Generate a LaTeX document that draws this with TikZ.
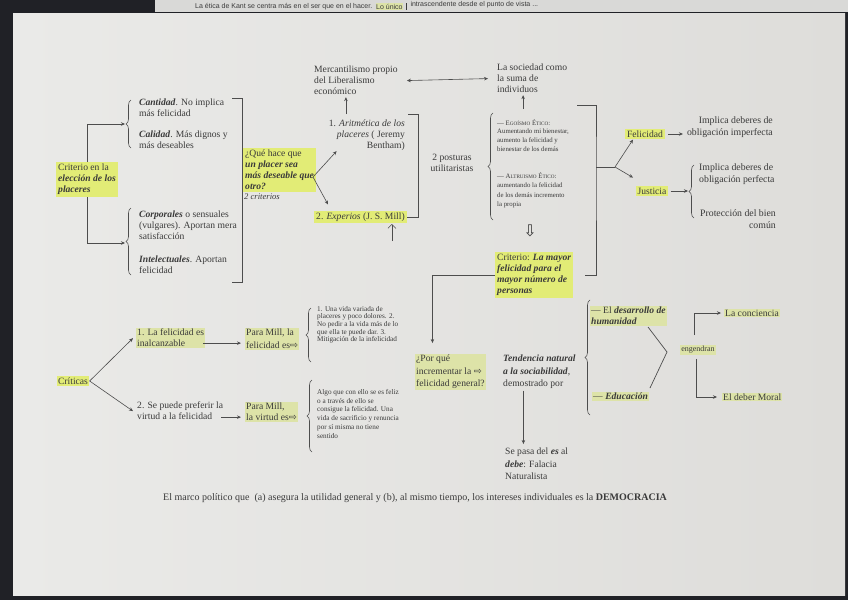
\documentclass[tikz,border=0pt]{standalone}
\usepackage{fontspec}
\setmainfont{Liberation Serif}
\newfontfamily\arrfont{DejaVu Sans}
\newfontfamily\stripfont{Liberation Sans}
\usepackage{tikz}
\usetikzlibrary{positioning, arrows.meta, calc, decorations.pathreplacing}
\definecolor{ink}{HTML}{3A3A3A}
\definecolor{rule}{HTML}{4D4D4D}
\definecolor{hlyel}{HTML}{E2EC76}
\definecolor{hlpale}{HTML}{DDE3A8}
\definecolor{frame}{HTML}{202126}
\definecolor{stripbg}{HTML}{D9D9D7}
\newcommand{\bfit}[1]{\textbf{\textit{#1}}}
\newcommand{\fsc}[2]{#1{\fontsize{5.2}{6}\selectfont #2}}
\newcommand{\warr}{{\arrfont ⇨}}

\begin{document}
\begin{tikzpicture}[x=1pt, y=-1pt,
  font=\fontsize{9.6}{11}\selectfont, text=ink,
  txt/.style={anchor=north west, align=left, inner sep=0pt},
  txtr/.style={anchor=north east, align=right, inner sep=0pt},
  hlt/.style={fill=hlyel, inner sep=2pt},
  hlp/.style={fill=hlpale, inner sep=1pt},
  smalltxt/.style={font=\fontsize{7.2}{7.6}\selectfont},
  wide/.style={font=\fontsize{9.6}{12.3}\selectfont},
  flow/.style={-{Stealth[length=4pt, width=3.5pt]}, rule, line width=0.6pt},
  biflow/.style={{Stealth[length=4pt, width=3.5pt]}-{Stealth[length=4pt, width=3.5pt]}, rule, line width=0.6pt},
  brc/.style={decorate, decoration={brace, amplitude=5pt}, rule, line width=0.6pt},
  bar/.style={rule, line width=0.7pt}
]
  % photo frame, page and strip of the sheet behind
  \useasboundingbox (0,0) rectangle (848,600);
  \fill[frame] (0,0) rectangle (848,600);
  \shade[left color={rgb,255:red,234;green,234;blue,232}, right color={rgb,255:red,222;green,221;blue,218}]
    (13,13) rectangle (845,595);
  \fill[stripbg] (155,0) rectangle (848,12);
  \node[anchor=west, inner sep=0pt, font=\stripfont\fontsize{7}{8}\selectfont] (kant) at (195,6.5)
    {La ética de Kant se centra más en el ser que en el hacer.};
  \node[right=3pt of kant, fill=hlpale, inner sep=0.5pt, font=\stripfont\fontsize{7}{8}\selectfont] (unico) {Lo único};
  \node[right=7pt of unico, yshift=1.5pt, inner sep=0pt, font=\stripfont\fontsize{7}{8}\selectfont] (intra)
    {intrascendente desde el punto de vista ...};
  \draw[ink, line width=0.5pt] ([xshift=3pt]unico.north east) -- ([xshift=3pt]unico.south east);

  % criterio en la eleccion de los placeres
  \node[txt, hlt] (crit) at (56,162) {Criterio en la\\\bfit{elección de los}\\\bfit{placeres}};
  \node[txt] (cant)  at (139,99)  {\bfit{Cantidad}. No implica\\más felicidad};
  \node[txt] (cali)  at (139,131) {\bfit{Calidad}. Más dignos y\\más deseables};
  \node[txt] (corp)  at (139,211) {\bfit{Corporales} o sensuales\\(vulgares). Aportan mera\\satisfacción};
  \node[txt] (intel) at (139,256) {\bfit{Intelectuales}. Aportan\\felicidad};
  \coordinate (bA) at (125,124);
  \coordinate (bB) at (125,243);
  \draw[flow] (crit.north) |- (bA);
  \draw[flow] (crit.south) |- (bB);
  \draw[brc] (131,148) -- (131,100);
  \draw[brc] (131,275) -- (131,208);
  \draw[bar] (232,98) -- (242,98) -- (242,282) -- (232,282);

  \node[txt, hlt] (que) at (243,148) {¿Qué hace que\\\bfit{un placer sea}\\\bfit{más deseable que}\\\bfit{otro?}};
  \node[txt, font=\fontsize{8.6}{10}\selectfont\itshape] (crit2) at (244,194) {2 criterios};

  % dos posturas utilitaristas
  \node[txtr] (arith) at (405,120) {1. \textit{Aritmética de los}\\\textit{placeres} ( Jeremy\\Bentham)};
  \node[anchor=west, hlt] (exp) at (314,217) {2. \textit{Experios} (J. S. Mill)};
  \coordinate (qf) at (313,177);
  \draw[flow] (qf) -- ([xshift=8pt]arith.south west);
  \draw[flow] (qf) -- ([shift={(14,-6)}]exp.north west);
  \node[txt] (merc) at (314,66) {Mercantilismo propio\\del Liberalismo\\económico};
  \node[txt] (soc)  at (497,64) {La sociedad como\\la suma de\\individuos};
  \draw[flow] ([shift={(-10,-6)}]merc.south |- arith.north) -- ([shift={(-10,2)}]merc.south);
  \draw[biflow] ([xshift=9pt]merc.east) -- ([xshift=-9pt]soc.west);
  \draw[flow] ([shift={(-9,16)}]soc.south) -- ([shift={(-9,2)}]soc.south);
  \coordinate (b2) at (418,114);
  \draw[bar] ([xshift=-10pt]b2) -- (b2) |- (exp.east);
  \node[align=center, inner sep=0pt] (post) at (452,163) {2 posturas\\utilitaristas};
  \draw[rule, line width=0.5pt, -{Straight Barb[length=4pt]}] ([shift={(-15,24)}]exp.east) -- ([shift={(-15,7)}]exp.east);

  % egoismo y altruismo etico
  \node[txt, font=\fontsize{6.8}{8.8}\selectfont] (ego) at (497,119)
    {— \fsc{E}{GOÍSMO} \fsc{É}{TICO}:\\Aumentando mi bienestar,\\aumento la felicidad y\\bienestar de los demás};
  \node[txt, font=\fontsize{6.8}{9.6}\selectfont] (alt) at (497,172)
    {— \fsc{A}{LTRUISMO} \fsc{É}{TICO}:\\aumentando la felicidad\\de los demás incremento\\la propia};
  \draw[brc] (493,220) -- (493,113);
  \node[inner sep=0pt, font=\arrfont\fontsize{16}{16}\selectfont] (dn) at (530,231) {⇩};
  \node[txt, hlt] (crit3) at (495,252) {Criterio: \bfit{La mayor}\\\bfit{felicidad para el}\\\bfit{mayor número de}\\\bfit{personas}};
  \coordinate (b3) at (596,167);
  \draw[bar] (577,105) -| (b3) |- ([xshift=12pt]crit3.east);

  % felicidad y justicia
  \node[hlt] (fel) at (645,134) {Felicidad};
  \node[hlt] (jus) at (652,191) {Justicia};
  \coordinate (jf) at (615,167);
  \draw[bar] (b3) -- (jf);
  \draw[flow] (jf) -- ([xshift=-12pt]fel.south);
  \draw[flow] (jf) -- ([shift={(-19,-8)}]jus.north);
  \node[txtr, font=\fontsize{9.8}{12}\selectfont] (imp) at (773,116) {Implica deberes de\\obligación imperfecta};
  \draw[flow] ([xshift=3pt]fel.east) -- ([xshift=-4pt]fel.east -| imp.west);
  \node[txt, font=\fontsize{9.8}{12}\selectfont] (perf) at (699,163) {Implica deberes de\\obligación perfecta};
  \node[txtr, font=\fontsize{9.8}{12}\selectfont] (prot) at (776,209) {Protección del bien\\común};
  \coordinate (bJ) at (688,191);
  \draw[flow] ([xshift=2pt]jus.east) -- (bJ);
  \draw[brc] (694,218) -- (694,165);

  % criticas
  \node[hlt, inner sep=1.5pt] (crt) at (73,381) {Críticas};
  \node[txt, hlp] (ina) at (136,328) {1. La felicidad es\\inalcanzable};
  \node[txt] (vir) at (137,402) {2. Se puede preferir la\\virtud a la felicidad};
  \draw[flow] (crt.east) -- ([xshift=-3pt]ina.west);
  \draw[flow] (crt.east) -- ([xshift=-4pt]vir.west);
  \node[txt, hlp, font=\fontsize{9.6}{13}\selectfont] (pm1) at (245,328) {Para Mill, la\\felicidad es\warr};
  \node[txt, hlp] (pm2) at (245,402) {Para Mill,\\la virtud es\warr};
  \draw[flow] ([shift={(-2,5)}]ina.east) -- ([shift={(-4,5)}]ina.east -| pm1.west);
  \draw[flow] ([shift={(-2,6)}]vir.east) -- ([shift={(-4,6)}]vir.east -| pm2.west);
  \draw[brc] (311,362) -- (311,308);
  \draw[brc] (312,452) -- (312,380);
  \node[txt, smalltxt] (m1) at (317,306)
    {1. Una vida variada de\\placeres y poco dolores. 2.\\No pedir a la vida más de lo\\que ella te puede dar. 3.\\Mitigación de la infelicidad};
  \node[txt, font=\fontsize{7.2}{8.8}\selectfont] (m2) at (317,389)
    {Algo que con ello se es feliz\\o a través de ello se\\consigue la felicidad. Una\\vida de sacrificio y renuncia\\por sí misma no tiene\\sentido};

  % por que incrementar la felicidad general
  \node[txt, hlp, wide] (por) at (415,354) {¿Por qué\\incrementar la \warr\\felicidad general?};
  \draw[flow] (crit3.west) -| ([xshift=-18pt, yshift=11pt]por.north);
  \node[txt, wide] (ten) at (503,355) {\bfit{Tendencia natural}\\\bfit{a la sociabilidad},\\demostrado por};
  \node[txt, wide] (fal) at (505,448) {Se pasa del \bfit{es} al\\\bfit{debe}: Falacia\\Naturalista};
  \draw[flow] ([shift={(-16,2)}]ten.south) -- ([shift={(-16,-4)}]ten.south |- fal.north);

  % desarrollo y educacion engendran
  \draw[brc] (590,415) -- (590,300);
  \node[txt, hlp] (des) at (590,306) {— El \bfit{desarrollo de}\\\bfit{humanidad}};
  \node[txt, hlp] (edu) at (592,392) {— \bfit{Educación}};
  \draw[bar] (648,327) -- (667,352) -- (650,388);
  \node[hlp, font=\fontsize{8}{9}\selectfont] (eng) at (698,350) {engendran};
  \node[anchor=west, hlp] (con) at (724,313) {La conciencia};
  \node[anchor=west, hlp] (deb) at (722,397) {El deber Moral};
  \draw[flow] ([shift={(-4,-10)}]eng.north) |- ([xshift=-3pt]con.west);
  \draw[flow] ([shift={(-2,4)}]eng.south) |- ([xshift=-5pt]deb.west);

  \node[anchor=west, inner sep=0pt, font=\fontsize{10}{12}\selectfont] (cap) at (163,498)
    {El marco político que~ (a) asegura la utilidad general y (b), al mismo tiempo, los intereses individuales es la \textbf{DEMOCRACIA}};
\end{tikzpicture}
\end{document}
